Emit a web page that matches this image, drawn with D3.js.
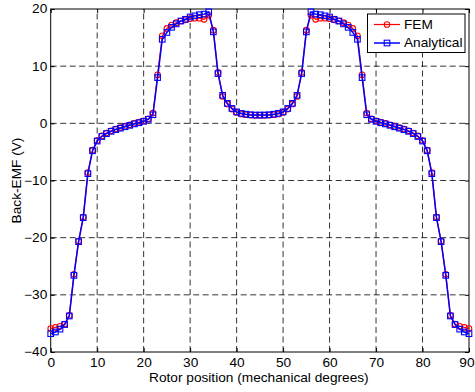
<!DOCTYPE html>
<html>
<head>
<meta charset="utf-8">
<script src="https://cdn.jsdelivr.net/npm/d3@7"></script>
<style>
  body { margin: 0; background: #fff; }
  text { font-family: "Liberation Sans", Arial, sans-serif; }
</style>
</head>
<body>
<svg id="chart"></svg>
<script>
// rotor position, 0..90 deg in 1 deg steps
const positions = d3.range(0, 91);

// FEM back-EMF (V)
const femValues = [
  -35.9, -35.7, -35.5, -35.1, -33.6, -26.4, -20.6, -16.4, -8.6, -4.7,
  -3.0, -2.2, -1.7, -1.3, -1.0, -0.75, -0.5, -0.25, 0.0, 0.2,
  0.45, 0.8, 1.8, 8.5, 15.3, 16.6, 17.2, 17.6, 17.9, 18.1,
  18.3, 18.4, 18.4, 18.2, 18.9, 16.3, 8.9, 4.7, 3.4, 2.5,
  1.9, 1.65, 1.5, 1.45, 1.4, 1.4, 1.4, 1.45, 1.5, 1.65,
  1.9, 2.5, 3.4, 4.7, 8.9, 16.3, 18.9, 18.2, 18.4, 18.4,
  18.3, 18.1, 17.9, 17.6, 17.2, 16.6, 15.3, 8.5, 1.8, 0.8,
  0.45, 0.2, 0.0, -0.25, -0.5, -0.75, -1.0, -1.3, -1.7, -2.2,
  -3.0, -4.7, -8.6, -16.4, -20.6, -26.4, -33.6, -35.1, -35.5, -35.7,
  -35.9
];

// Analytical back-EMF (V)
const analyticalValues = [
  -36.8, -36.5, -36.0, -35.2, -33.7, -26.6, -20.7, -16.5, -8.8, -4.8,
  -3.1, -2.3, -1.8, -1.4, -1.1, -0.85, -0.6, -0.35, -0.1, 0.1,
  0.35, 0.7, 1.5, 8.0, 14.7, 15.9, 16.8, 17.4, 17.9, 18.2,
  18.6, 18.8, 19.0, 19.1, 19.5, 16.0, 8.7, 4.9, 3.5, 2.6,
  2.0, 1.75, 1.6, 1.5, 1.45, 1.45, 1.45, 1.5, 1.6, 1.75,
  2.0, 2.6, 3.5, 4.9, 8.7, 16.0, 19.5, 19.1, 19.0, 18.8,
  18.6, 18.2, 17.9, 17.4, 16.8, 15.9, 14.7, 8.0, 1.5, 0.7,
  0.35, 0.1, -0.1, -0.35, -0.6, -0.85, -1.1, -1.4, -1.8, -2.3,
  -3.1, -4.8, -8.8, -16.5, -20.7, -26.6, -33.7, -35.2, -36.0, -36.5,
  -36.8
];

const xTicks = [0, 10, 20, 30, 40, 50, 60, 70, 80, 90];
const yTicks = [-40, -30, -20, -10, 0, 10, 20];
const seriesNames = ["FEM", "Analytical"];

const width = 475, height = 392;
const margin = { top: 9, right: 6, bottom: 40, left: 50.7 };
const sx = 1.14; // text in the picture is a bit wider than plain Arial

const svg = d3.select("#chart").attr("width", width).attr("height", height);

const x = d3.scaleLinear().domain([0, 90]).range([margin.left, width - margin.right]);
const y = d3.scaleLinear().domain([-40, 20]).range([height - margin.bottom, margin.top]);

const x0 = x.range()[0], x1 = x.range()[1];
const y0 = y.range()[0], y1 = y.range()[1];

// grid (dashed)
const grid = svg.append("g").attr("stroke", "#000").attr("stroke-width", 0.8)
  .attr("stroke-dasharray", "6,3.5").attr("fill", "none");
grid.selectAll(".gx").data(xTicks.slice(1, -1)).enter().append("line")
  .attr("x1", d => x(d)).attr("x2", d => x(d)).attr("y1", y0).attr("y2", y1);
grid.selectAll(".gy").data(yTicks.slice(1, -1)).enter().append("line")
  .attr("y1", d => y(d)).attr("y2", d => y(d)).attr("x1", x0).attr("x2", x1);

// axes, ticks inward
const xAxis = d3.axisBottom(x).tickValues(xTicks).tickSize(-4).tickPadding(6);
const yAxis = d3.axisLeft(y).tickValues(yTicks).tickSize(-4).tickPadding(3);

const gx = svg.append("g").attr("transform", `translate(0,${y0})`).call(xAxis)
  .call(g => g.select(".domain").remove());
svg.append("g").attr("transform", `translate(${x0},0)`).call(yAxis)
  .call(g => g.select(".domain").remove());
// top/right ticks
svg.append("g").attr("transform", `translate(0,${y1})`)
  .call(d3.axisTop(x).tickValues(xTicks).tickSize(-4).tickFormat(""))
  .call(g => g.select(".domain").remove());
svg.append("g").attr("transform", `translate(${x1},0)`)
  .call(d3.axisRight(y).tickValues(yTicks).tickSize(-4).tickFormat(""))
  .call(g => g.select(".domain").remove());

svg.selectAll(".tick text").attr("font-size", 12).attr("fill", "#000")
  .attr("font-family", "Liberation Sans, Arial, sans-serif")
  .attr("transform", `scale(${sx},1)`);
svg.selectAll(".tick line").attr("stroke", "#000");
// keep the last x label inside the window
gx.selectAll(".tick text").filter(d => d === 90)
  .attr("text-anchor", "end").attr("x", (width - 1 - x(90)) / sx);

svg.append("rect").attr("x", x0).attr("y", y1).attr("width", x1 - x0).attr("height", y0 - y1)
  .attr("fill", "none").attr("stroke", "#000").attr("stroke-width", 1);

// axis titles
svg.append("text").attr("transform", `translate(${(x0 + x1) / 2 - 1},382) scale(${sx},1)`)
  .attr("text-anchor", "middle")
  .attr("font-size", 12).text("Rotor position (mechanical degrees)");
svg.append("text").attr("transform", `translate(20.5,${(y0 + y1) / 2}) rotate(-90) scale(${sx},1)`)
  .attr("text-anchor", "middle").attr("font-size", 12).text("Back-EMF (V)");

const line = d3.line().x((d, i) => x(positions[i])).y(d => y(d));

// FEM
const fem = svg.append("g");
fem.append("path").datum(femValues).attr("d", line)
  .attr("fill", "none").attr("stroke", "#f00").attr("stroke-width", 1.2);
fem.selectAll("circle").data(femValues).enter().append("circle")
  .attr("cx", (d, i) => x(positions[i])).attr("cy", d => y(d)).attr("r", 2.8)
  .attr("fill", "none").attr("stroke", "#f00").attr("stroke-width", 1.1);

// Analytical
const ana = svg.append("g");
ana.append("path").datum(analyticalValues).attr("d", line)
  .attr("fill", "none").attr("stroke", "#00f").attr("stroke-width", 1.5);
ana.selectAll("rect").data(analyticalValues).enter().append("rect")
  .attr("x", (d, i) => x(positions[i]) - 2.8).attr("y", d => y(d) - 2.8)
  .attr("width", 5.6).attr("height", 5.6)
  .attr("fill", "none").attr("stroke", "#00f").attr("stroke-width", 1.1);

// legend
const lg = svg.append("g");
lg.append("rect").attr("x", 367.5).attr("y", 14).attr("width", 97.5).attr("height", 38.5)
  .attr("fill", "#fff").attr("stroke", "#000").attr("stroke-width", 1);
const colors = ["#f00", "#00f"];
seriesNames.forEach((name, i) => {
  const ly = 24.5 + i * 18.5;
  lg.append("line").attr("x1", 374).attr("x2", 400).attr("y1", ly).attr("y2", ly)
    .attr("stroke", colors[i]).attr("stroke-width", i ? 1.5 : 1.2);
  if (i === 0) {
    lg.append("circle").attr("cx", 387).attr("cy", ly).attr("r", 2.8)
      .attr("fill", "none").attr("stroke", colors[i]).attr("stroke-width", 1.1);
  } else {
    lg.append("rect").attr("x", 384.2).attr("y", ly - 2.8).attr("width", 5.6).attr("height", 5.6)
      .attr("fill", "none").attr("stroke", colors[i]).attr("stroke-width", 1.1);
  }
  lg.append("text").attr("transform", `translate(404,${ly + 4.3}) scale(${sx},1)`)
    .attr("font-size", 12).text(name);
});
</script>
</body>
</html>
